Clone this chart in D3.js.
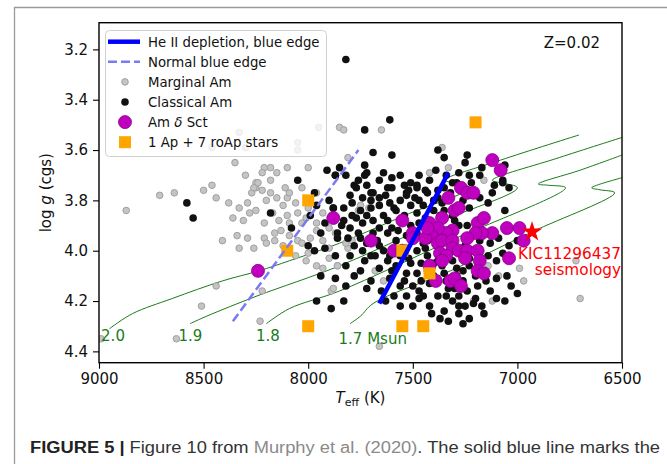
<!DOCTYPE html>
<html>
<head>
<meta charset="utf-8">
<script src="https://cdn.jsdelivr.net/npm/d3@7"></script>
<style>
  body { margin: 0; background: #fff; }
  svg { display: block; }
  text { font-family: "DejaVu Sans", sans-serif; }
</style>
</head>
<body>
<svg id="chart" width="667" height="464"></svg>
<script>
// tick values
var teffTicks = [9000, 8500, 8000, 7500, 7000, 6500];
var loggTicks = [3.2, 3.4, 3.6, 3.8, 4.0, 4.2, 4.4];

// marginal Am stars [Teff, logg]
var marginalAm = [
  [8350,3.65],[8210,3.67],[8180,3.67],[8220,3.69],[8150,3.69],[8100,3.67],[8000,3.67],[8250,3.73],
  [8250,3.75],[8270,3.77],[8710,3.78],[8640,3.77],[8500,3.76],[8460,3.74],[8440,3.79],[8870,3.84],
  [8380,3.81],[8330,3.83],[8290,3.81],[8260,3.75],[8240,3.73],[8220,3.76],[8180,3.77],[8200,3.80],
  [8150,3.79],[8100,3.79],[8090,3.77],[8030,3.75],[7960,3.77],[8360,3.87],[8310,3.88],[8280,3.85],
  [8250,3.84],[8210,3.89],[8170,3.85],[8140,3.88],[8100,3.86],[8090,3.89],[8050,3.85],[8030,3.89],
  [8010,3.87],[7960,3.89],[7930,3.85],[7900,3.91],[8410,3.96],[8340,3.94],[8290,3.95],[8330,3.99],
  [8260,3.99],[8210,3.95],[8200,3.97],[8160,3.96],[8130,3.92],[8090,3.94],[8050,3.96],[8030,3.97],
  [7990,3.95],[7960,3.92],[7930,3.96],[7900,3.99],[8010,4.04],[7960,4.06],[7930,4.07],[7900,4.03],
  [7860,4.06],[8440,4.14],[8220,4.16],[8510,4.22],[7890,4.16],[8230,4.28],[8630,4.35],[8990,4.35],
  [8330,3.53],[7950,3.51],[7850,3.51],[8460,3.59],[8300,3.59],[8050,3.57],[8050,3.60],[7830,3.52],
  [7650,3.52],[7360,3.59],[7330,3.67],[7420,3.69],[7160,3.72],[7810,3.63],[6700,4.19],[6720,4.04],
  [6970,4.12],[7090,4.10],[6990,4.07],[7140,4.06],[7120,4.20],[7210,4.20],[7660,4.38],[7680,4.08],
  [7640,4.12],[7750,3.82],[7880,4.15],[7860,4.06],[7810,3.99],[7820,3.97],[7870,3.93],[7790,3.96],
  [7760,3.84],[7710,3.83],[8120,3.82],[8060,3.81],[8000,3.83],[8160,3.93],[8120,3.98],[8000,4.01],
  [8060,4.02],[8110,3.75],[8180,3.72],[8300,3.70]
];

// classical Am stars [Teff, logg]
var classicalAm = [
  [8580,3.81],[8550,3.87],[8050,3.72],[7910,3.68],[7870,3.70],[8180,3.85],[8080,3.91],[7970,3.77],
  [7900,3.80],[7920,3.89],[7880,3.83],[7860,3.95],[7820,3.24],[7610,3.48],[7730,3.52],[7690,3.61],
  [7600,3.62],[7380,3.60],[7350,3.63],[7240,3.62],[7250,3.65],[7170,3.67],[7390,3.68],[7060,3.66],
  [7070,3.72],[7110,3.74],[7040,3.75],[7120,3.77],[7230,3.70],[7220,3.73],[7730,3.66],[7720,3.69],
  [7730,3.70],[7850,3.67],[7870,3.70],[7820,3.70],[7770,3.75],[7720,3.74],[7690,3.77],[7660,3.72],
  [7600,3.71],[7620,3.75],[7600,3.75],[7540,3.74],[7510,3.73],[7480,3.74],[7440,3.76],[7420,3.72],
  [7350,3.75],[7290,3.73],[7320,3.77],[7530,3.77],[7430,3.77],[7380,3.79],[7780,3.74],[7700,3.77],
  [7530,3.78],[7480,3.75],[7380,3.76],[7310,3.73],[7270,3.75],[7070,3.73],[7880,3.83],[7830,3.83],
  [7790,3.81],[7750,3.84],[7700,3.83],[7660,3.82],[7610,3.81],[7580,3.84],[7510,3.82],[7480,3.85],
  [7450,3.82],[7400,3.84],[7360,3.81],[7260,3.80],[7230,3.83],[7830,3.88],[7800,3.91],[7770,3.87],
  [7740,3.89],[7690,3.88],[7660,3.91],[7620,3.88],[7600,3.91],[7550,3.88],[7510,3.90],[7470,3.89],
  [7420,3.92],[7860,3.93],[7810,3.95],[7750,3.95],[7720,3.97],[7670,3.96],[7640,4.00],[7580,3.96],
  [7530,3.99],[7490,3.95],[7480,4.00],[7430,4.02],[7460,4.05],[7380,4.04],[7360,4.06],[7310,4.04],
  [7290,4.07],[7290,4.10],[7260,4.08],[7620,4.04],[7580,4.06],[7510,4.05],[7530,4.09],[7500,4.14],
  [7470,4.16],[7420,4.13],[7380,4.18],[7340,4.18],[7280,4.18],[7240,4.16],[7270,4.14],[7230,4.06],
  [7160,4.08],[7100,4.04],[7070,4.01],[7040,3.98],[7000,3.96],[7000,4.17],[7530,4.18],[7470,4.19],
  [7280,4.22],[7250,4.22],[7210,4.21],[7170,4.22],[7160,4.25],[7340,4.12],[7480,3.93],[7430,3.96],
  [7380,3.95],[7700,4.02],[7800,4.02],[7750,4.08],[7450,3.97],[7800,3.78],[7740,3.79],[7630,3.78],
  [7560,3.80],[7490,3.79],[7370,3.86],[7300,3.88],[7320,3.96],[7250,3.98],[7200,4.00],[7180,3.96],
  [7370,4.00],[7590,4.00],[7680,4.02],[7730,4.04],[7820,4.06],[7780,4.10],[7700,4.12],[7610,4.11],
  [7560,4.14],[7590,4.18],[7630,4.20],[7420,4.22],[7350,4.24],[7370,4.27],[7230,4.27],[7190,4.14],
  [7130,4.16],[7060,4.20],[7820,4.14],[7870,4.02],
  [7760,3.72],[7640,3.69],[7560,3.70],[7470,3.70],[7520,3.76],[7660,3.79],[7700,3.80],[7590,3.83],
  [7540,3.86],[7440,3.87],[7470,3.80],[7400,3.80],[7350,3.84],[7310,3.86],[7280,3.90],[7240,3.90],
  [7790,3.86],[7720,3.86],[7640,3.86],[7570,3.92],[7530,3.94],[7620,3.93],[7690,3.93],[7760,3.93],
  [7840,3.90],[7780,3.98],[7740,4.00],[7660,3.98],[7610,4.02],[7560,4.02],[7520,4.03],[7540,4.12],
  [7480,4.09],[7430,4.08],[7400,4.10],[7350,4.09],[7330,4.15],[7300,4.15],[7450,4.18],[7500,4.22],
  [7560,4.22],[7650,4.16],[7720,4.15],[7660,4.07],[7600,4.08],[7400,4.05],[7460,4.12],[7260,4.12],
  [7200,4.10],[7150,4.12],[7100,4.11],[7050,4.10],[7030,4.14],[7100,4.19],[7200,4.19],[7310,4.20],
  [7280,4.25],[7330,4.28],[7410,4.25],[7260,4.29],[7440,3.99],[7300,3.99],[7230,4.03],[7140,4.02],
  [7130,3.97],[7090,3.95],[7060,3.84],[7140,3.81],[7180,3.79],[7340,3.70],[7280,3.69],[7180,3.70],
  [7960,3.82],[7990,3.86],[7940,3.93],[8000,3.98],[7970,4.00],[7920,3.99],[7940,4.10],[7870,4.11],
  [7830,4.20],[7890,4.23],[7960,4.20]
];

// Am delta Sct stars [Teff, logg]
var amDeltaSct = [
  [8240,4.08],[7880,3.87],[7120,3.64],[7080,3.68],[7270,3.75],[7240,3.77],[7210,3.77],[7330,3.79],
  [7550,3.88],[7420,3.89],[7360,3.87],[7300,3.84],[7280,3.83],[7190,3.89],[7160,3.87],[7120,3.93],
  [7050,3.91],[6990,3.91],[6970,3.96],[7170,3.93],[7200,3.93],[7240,3.95],[7310,3.92],[7340,3.93],
  [7380,3.91],[7410,3.94],[7440,3.95],[7380,3.97],[7360,3.96],[7310,3.96],[7310,3.99],[7280,4.00],
  [7240,4.00],[7250,4.03],[7190,4.00],[7180,4.04],[7370,4.01],[7340,4.02],[7360,4.04],[7500,3.93],
  [7500,3.95],[7430,3.91],[7590,4.00],[7550,4.00],[7700,3.96],[7420,4.06],[7190,4.08],[7160,4.09],
  [7320,4.12],[7300,4.11],[7270,4.14],[7390,4.12],[7040,4.03]
];

// 1 Ap + 7 roAp stars [Teff, logg]
var apStars = [
  [7200,3.49],[8000,3.80],[8100,4.00],[8000,4.30],[7550,4.00],[7420,4.09],[7550,4.30],[7450,4.30]
];

// KIC 11296437 seismology [Teff, logg]
var kicStar = [6930, 3.925];

// blue edges [Teff, logg]
var heIIEdge = [[7660, 4.21], [7330, 3.69]];
var normalEdge = [[8360, 4.28], [7760, 3.60]];

// evolutionary tracks, Z=0.02 [Teff, logg]
var trackMasses = ["2.0", "1.9", "1.8", "1.7 Msun"];
var track20 = [[8950,4.31],[8840,4.25],[8650,4.19],[8410,4.12],[8235,4.08],[8090,4.04],[7850,3.97],
  [7540,3.86],[7230,3.75],[7300,3.73],[7350,3.72],[7080,3.64],[6705,3.54]];
var track19 = [[8565,4.29],[8485,4.26],[8245,4.18],[7850,4.06],[7420,3.90],[7000,3.75],[7080,3.73],
  [7120,3.72],[6800,3.63],[6500,3.55]];
var track18 = [[8200,4.29],[8090,4.23],[7850,4.16],[7320,3.96],[6770,3.75],[6850,3.74],[6900,3.735],
  [6700,3.68],[6500,3.62]];
var track17 = [[7800,4.29],[7750,4.26],[7690,4.21],[7320,4.08],[6930,3.925],[6535,3.77],[6605,3.758],
  [6645,3.75],[6500,3.71]];
var tracks = [track20, track19, track18, track17];
var trackLabelPos = [[8990,4.36],[8620,4.36],[8250,4.36],[7855,4.37]];

var svg = d3.select("#chart");
var pLeft = 99, pRight = 622, pTop = 22.7, pBottom = 362.7;

var x = d3.scaleLinear().domain([9000, 6500]).range([pLeft, pRight]);
var y = d3.scaleLinear().domain([3.094, 4.445]).range([pTop, pBottom]);

// figure frame
svg.append("path")
  .attr("d", "M14.5,464 V7.5 H667")
  .attr("fill", "none")
  .attr("stroke", "#9a9a9a")
  .attr("stroke-width", 1.3);

svg.append("clipPath").attr("id", "plotclip")
  .append("rect")
  .attr("x", pLeft).attr("y", pTop)
  .attr("width", pRight - pLeft).attr("height", pBottom - pTop);

var plot = svg.append("g").attr("clip-path", "url(#plotclip)");

// tracks
var trackLine = d3.line()
  .x(function(d) { return x(d[0]); })
  .y(function(d) { return y(d[1]); })
  .curve(d3.curveCatmullRom.alpha(0.5));

plot.selectAll(".track")
  .data(tracks)
  .enter().append("path")
  .attr("class", "track")
  .attr("d", trackLine)
  .attr("fill", "none")
  .attr("stroke", "#1b7a1b")
  .attr("stroke-width", 1);

svg.selectAll(".tracklabel")
  .data(trackMasses)
  .enter().append("text")
  .attr("class", "tracklabel")
  .attr("x", function(d, i) { return x(trackLabelPos[i][0]); })
  .attr("y", function(d, i) { return y(trackLabelPos[i][1]); })
  .attr("font-size", 15)
  .attr("fill", "#1b7a1b")
  .text(function(d) { return d; });

// scatter
plot.selectAll(".marg")
  .data(marginalAm)
  .enter().append("circle")
  .attr("cx", function(d) { return x(d[0]); })
  .attr("cy", function(d) { return y(d[1]); })
  .attr("r", 3.3)
  .attr("fill", "#c4c4c4")
  .attr("stroke", "#a0a0a0")
  .attr("stroke-width", 1);

plot.selectAll(".clas")
  .data(classicalAm)
  .enter().append("circle")
  .attr("cx", function(d) { return x(d[0]); })
  .attr("cy", function(d) { return y(d[1]); })
  .attr("r", 3.8)
  .attr("fill", "#111");

plot.selectAll(".dsct")
  .data(amDeltaSct)
  .enter().append("circle")
  .attr("cx", function(d) { return x(d[0]); })
  .attr("cy", function(d) { return y(d[1]); })
  .attr("r", 6.5)
  .attr("fill", "#bf00bf")
  .attr("stroke", "#8c008c")
  .attr("stroke-width", 0.8);

plot.selectAll(".ap")
  .data(apStars)
  .enter().append("rect")
  .attr("x", function(d) { return x(d[0]) - 6; })
  .attr("y", function(d) { return y(d[1]) - 6; })
  .attr("width", 12)
  .attr("height", 12)
  .attr("fill", "#ffa500");

// edges
var edgeLine = d3.line()
  .x(function(d) { return x(d[0]); })
  .y(function(d) { return y(d[1]); });

plot.append("path")
  .attr("d", edgeLine(normalEdge))
  .attr("fill", "none")
  .attr("stroke", "#7a7af5")
  .attr("stroke-width", 2.5)
  .attr("stroke-dasharray", "9,4");

plot.append("path")
  .attr("d", edgeLine(heIIEdge))
  .attr("fill", "none")
  .attr("stroke", "#0000ff")
  .attr("stroke-width", 4.5);

// KIC star
plot.append("path")
  .attr("d", d3.symbol().type(d3.symbolStar).size(130)())
  .attr("transform", "translate(" + x(kicStar[0]) + "," + y(kicStar[1]) + ")")
  .attr("fill", "#ff0000");

svg.append("text")
  .attr("x", pRight - 1)
  .attr("y", y(kicStar[1]) + 27)
  .attr("text-anchor", "end")
  .attr("font-size", 15.3)
  .attr("fill", "#ff0000")
  .text("KIC11296437");

svg.append("text")
  .attr("x", pRight - 1)
  .attr("y", y(kicStar[1]) + 43)
  .attr("text-anchor", "end")
  .attr("font-size", 15.3)
  .attr("fill", "#ff0000")
  .text("seismology");

svg.append("text")
  .attr("x", 600)
  .attr("y", 48)
  .attr("text-anchor", "end")
  .attr("font-size", 15)
  .attr("fill", "#111")
  .text("Z=0.02");

// axes
var xAxis = d3.axisBottom(x).tickValues(teffTicks).tickFormat(d3.format("d")).tickSize(6).tickSizeOuter(0).tickPadding(5);
var yAxis = d3.axisLeft(y).tickValues(loggTicks).tickFormat(d3.format(".1f")).tickSize(6).tickSizeOuter(0).tickPadding(5);

var gx = svg.append("g").attr("transform", "translate(0," + pBottom + ")").call(xAxis);
var gy = svg.append("g").attr("transform", "translate(" + pLeft + ",0)").call(yAxis);
[gx, gy].forEach(function(g) {
  g.select(".domain").remove();
  g.selectAll(".tick line").attr("stroke", "#000").attr("stroke-width", 1.1);
  g.selectAll(".tick text").attr("font-size", 15).attr("fill", "#111")
    .attr("font-family", "DejaVu Sans");
});

svg.append("rect")
  .attr("x", pLeft).attr("y", pTop)
  .attr("width", pRight - pLeft).attr("height", pBottom - pTop)
  .attr("fill", "none")
  .attr("stroke", "#000")
  .attr("stroke-width", 1.4);

var xl = svg.append("text")
  .attr("x", (pLeft + pRight) / 2)
  .attr("y", 403)
  .attr("text-anchor", "middle")
  .attr("font-size", 15)
  .attr("fill", "#111");
xl.append("tspan").attr("font-style", "italic").text("T");
xl.append("tspan").attr("font-size", 11).attr("dy", 3).text("eff");
xl.append("tspan").attr("dy", -3).text(" (K)");

var yl = svg.append("text")
  .attr("transform", "translate(51," + ((pTop + pBottom) / 2) + ") rotate(-90)")
  .attr("text-anchor", "middle")
  .attr("font-size", 15)
  .attr("fill", "#111");
yl.append("tspan").text("log ");
yl.append("tspan").attr("font-style", "italic").text("g");
yl.append("tspan").text(" (cgs)");

// legend
var legend = svg.append("g");
legend.append("rect")
  .attr("x", 105.5).attr("y", 30.5)
  .attr("width", 221).attr("height", 126)
  .attr("rx", 4)
  .attr("fill", "#fff")
  .attr("fill-opacity", 0.8)
  .attr("stroke", "#d0d0d0")
  .attr("stroke-width", 1);

var legendLabels = ["He II depletion, blue edge", "Normal blue edge", "Marginal Am", "Classical Am", "Am  \u03b4 Sct", "1 Ap + 7 roAp stars"];
var ly = function(i) { return 41.7 + i * 20.1; };

legend.append("line").attr("x1", 108).attr("x2", 140).attr("y1", ly(0)).attr("y2", ly(0))
  .attr("stroke", "#0000ff").attr("stroke-width", 4.5);
legend.append("line").attr("x1", 108).attr("x2", 140).attr("y1", ly(1)).attr("y2", ly(1))
  .attr("stroke", "#7a7af5").attr("stroke-width", 2.5).attr("stroke-dasharray", "9,4");
legend.append("circle").attr("cx", 125).attr("cy", ly(2)).attr("r", 3.3)
  .attr("fill", "#c4c4c4").attr("stroke", "#a0a0a0");
legend.append("circle").attr("cx", 125).attr("cy", ly(3)).attr("r", 3.8).attr("fill", "#111");
legend.append("circle").attr("cx", 125).attr("cy", ly(4)).attr("r", 6.5)
  .attr("fill", "#bf00bf").attr("stroke", "#8c008c").attr("stroke-width", 0.8);
legend.append("rect").attr("x", 119).attr("y", ly(5) - 6).attr("width", 12).attr("height", 12)
  .attr("fill", "#ffa500");

legendLabels.forEach(function(t, i) {
  var tx = legend.append("text")
    .attr("x", 148)
    .attr("y", ly(i) + 5)
    .attr("font-size", 13.3)
    .attr("fill", "#111");
  if (i === 4) {
    tx.append("tspan").text("Am  ");
    tx.append("tspan").attr("font-style", "italic").text("\u03b4");
    tx.append("tspan").text(" Sct");
  } else {
    tx.text(t);
  }
});

// caption
var cap = svg.append("text")
  .attr("x", 30)
  .attr("y", 453)
  .attr("font-size", 16)
  .attr("font-family", "Liberation Sans, Arial, sans-serif")
  .attr("textLength", 630)
  .attr("lengthAdjust", "spacingAndGlyphs");
cap.append("tspan").attr("font-weight", "bold").attr("fill", "#222").style("font-family", "Liberation Sans").text("FIGURE 5 | ");
cap.append("tspan").attr("fill", "#333").style("font-family", "Liberation Sans").text("Figure 10 from ");
cap.append("tspan").attr("fill", "#8a8a8a").style("font-family", "Liberation Sans").text("Murphy et al. (2020)");
cap.append("tspan").attr("fill", "#333").style("font-family", "Liberation Sans").text(". The solid blue line marks the");
</script>
</body>
</html>
